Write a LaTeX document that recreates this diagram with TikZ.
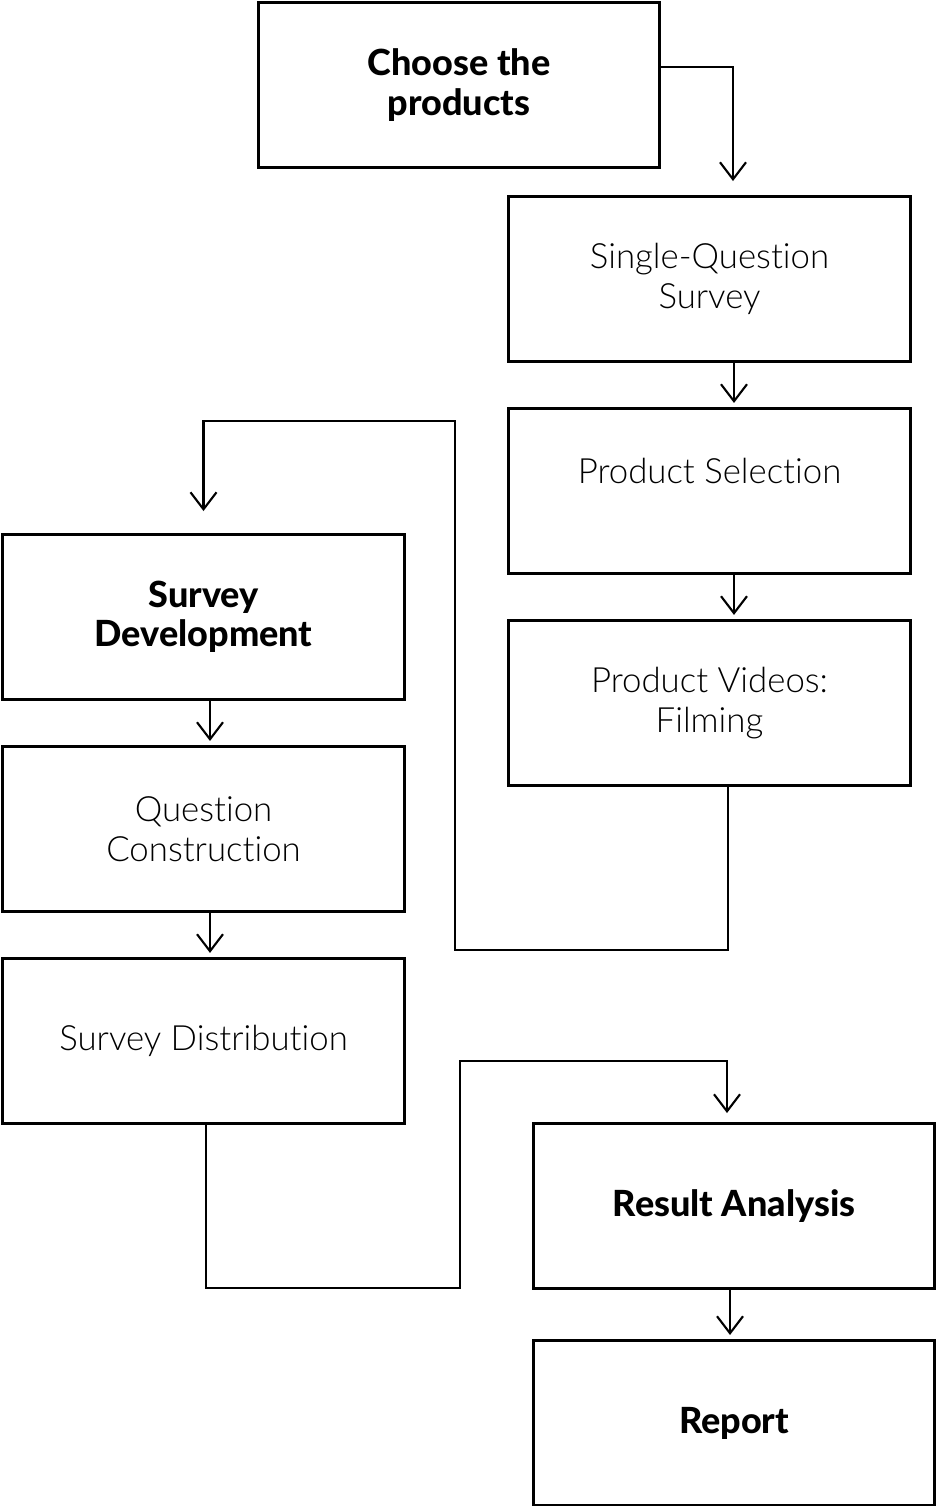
\documentclass[tikz,border=0pt]{standalone}
\usepackage{fontspec}
\setmainfont{Lato}[UprightFont=* Light, BoldFont=* Heavy, Ligatures=NoCommon]
\usepackage{tikz}
\usetikzlibrary{positioning,arrows.meta}

\begin{document}
\begin{tikzpicture}[x=0.02cm,y=-0.02cm,
		stepbox/.style={draw,line width=1.7pt,minimum width=8.04cm,minimum height=3.3cm,
			align=center,font=\fontsize{19.8}{22.5}\selectfont},
		keybox/.style={stepbox,font=\fontsize{20.5}{22.5}\selectfont\bfseries},
		flow/.style={line width=1.2pt,-{Straight Barb[length=3.4mm,width=5.2mm]},shorten >=0.08cm},
		node distance=0.88cm]
		\useasboundingbox (0,0) rectangle (936,1506);
		% right column
		\node(choose) [keybox] at (459,85) {Choose the\\products};
		\node(single) [stepbox] at (709.5,279) {Single-Question\\Survey};
		\node(select) [stepbox,below=of single] {Product Selection\\~};
		\node(videos) [stepbox,below=of select] {Product Videos:\\Filming};
		% left column
		\node(survdev) [keybox] at (203.5,617) {Survey\\Development};
		\node(question) [stepbox,below=of survdev] {Question\\Construction};
		\node(distrib) [stepbox,below=of question] {Survey Distribution};
		% bottom
		\node(analysis) [keybox] at (734,1206) {Result Analysis};
		\node(report) [keybox,below=0.98cm of analysis] {Report};
		% bends
		\coordinate (loopA) at (455,950);
		\coordinate (loopB) at (455,421);
		\coordinate (loopC) at (460,1288);
		\coordinate (loopD) at (460,1061);
		\draw[flow,shorten >=0.28cm] (choose.5) -| ([xshift=0.47cm]single.north);
		\draw[flow] ([xshift=0.49cm]single.south) -- ([xshift=0.49cm]select.north);
		\draw[flow] ([xshift=0.49cm]select.south) -- ([xshift=0.49cm]videos.north);
		\draw[flow,shorten >=0.44cm] ([xshift=0.37cm]videos.south) |- (loopA) -- (loopB) -| (survdev.north);
		\draw[flow] ([xshift=0.13cm]survdev.south) -- ([xshift=0.13cm]question.north);
		\draw[flow] ([xshift=0.13cm]question.south) -- ([xshift=0.13cm]distrib.north);
		\draw[flow,shorten >=0.18cm] ([xshift=0.05cm]distrib.south) |- (loopC) -- (loopD) -| ([xshift=-0.14cm]analysis.north);
		\draw[flow] ([xshift=-0.08cm]analysis.south) -- ([xshift=-0.08cm]report.north);
	\end{tikzpicture}
\end{document}
